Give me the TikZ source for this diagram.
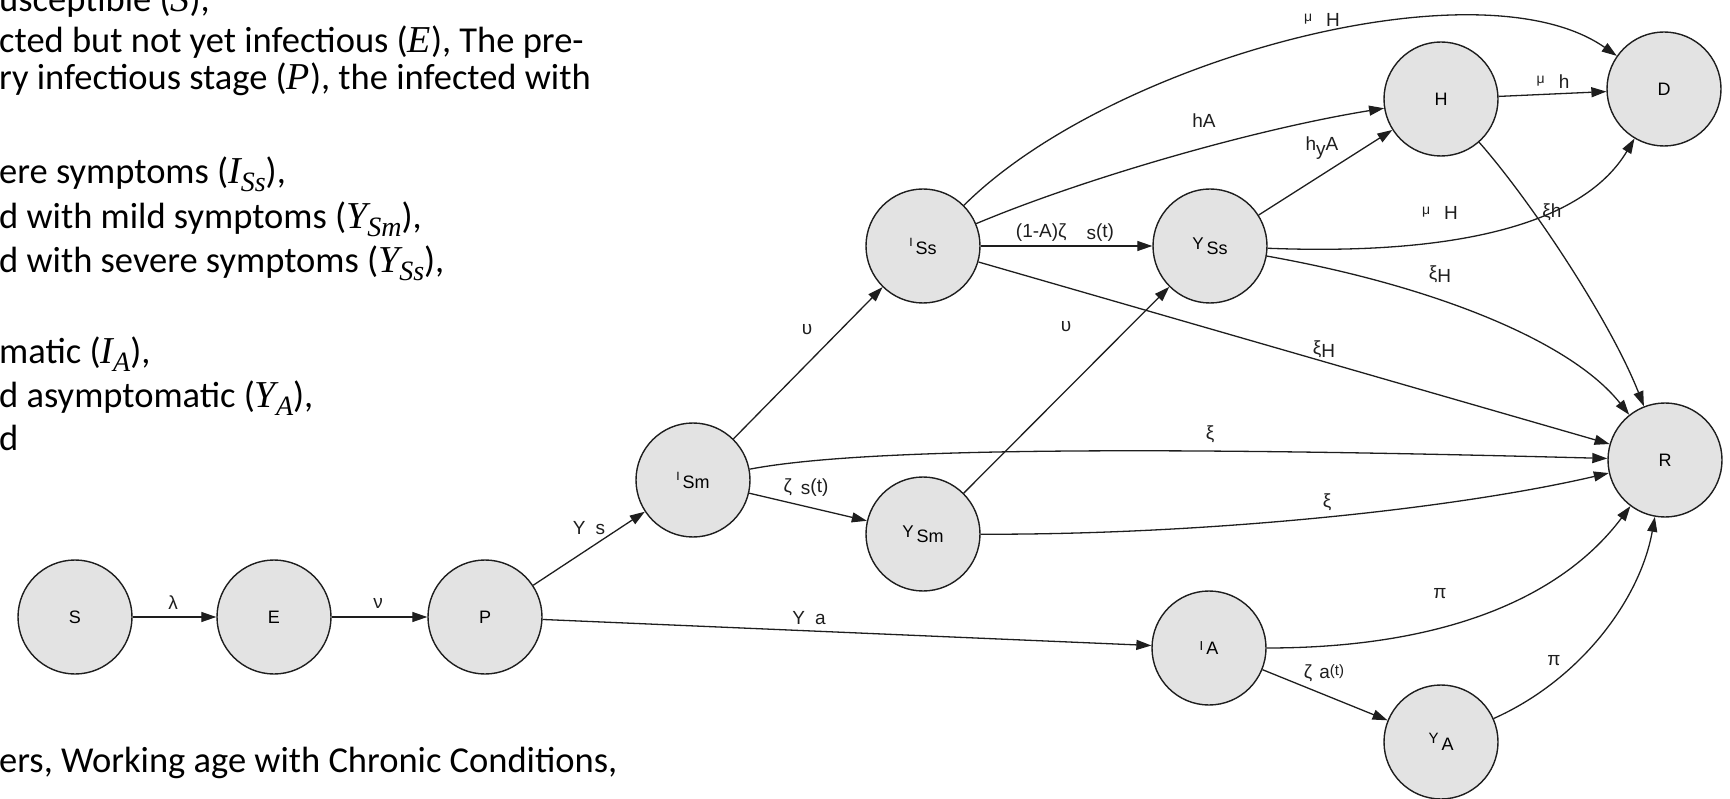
\documentclass[tikz,border=0pt]{standalone}
\usepackage{fontspec}
\setmainfont{Liberation Sans}
\newfontfamily\bodyfont{Carlito}
\newfontfamily\symfont{Liberation Serif}
\usetikzlibrary{arrows.meta}

\definecolor{nodefill}{RGB}{227,227,227}
\definecolor{ink}{RGB}{30,30,30}

% first letter of a compartment name, set small and lifted
\newcommand\lead[3]{\raisebox{#3}{\fontsize{#2}{#2}\selectfont #1}}
% italic compartment symbols in the legend text
\newcommand\sym[1]{{\symfont\itshape\fontsize{38}{40}\selectfont #1}}
\newcommand\symsub[2]{{\symfont\itshape\fontsize{38}{40}\selectfont #1\raisebox{-8pt}{\fontsize{28}{28}\selectfont #2}}}
% small raised letter used in the rate labels
\newcommand\up[1]{\raisebox{5pt}{\fontsize{14}{14}\selectfont #1}}

\begin{document}
\begin{tikzpicture}[
  x=1pt, y=-1pt,
  state/.style={circle, draw=ink, line width=1.4pt, fill=nodefill,
    minimum size=114pt, inner sep=0pt, font=\fontsize{18}{18}\selectfont},
  flow/.style={draw=ink, line width=1.3pt,
    -{Triangle[length=15pt,width=10pt]}},
  rate/.style={font=\fontsize{19}{19}\selectfont, inner sep=0pt, text=ink},
  txt/.style={font=\bodyfont\fontsize{36.5}{40}\selectfont,
    inner sep=0pt, anchor=base west},
]
\useasboundingbox (0,0) rectangle (1730,799);
\clip (0,0) rectangle (1730,799);

% legend text on the left
\node[txt] (l1)  at (-1,12)  {usceptible (\sym{S}),};
\node[txt] (l2)  at (-1,53)  {cted but not yet infectious (\sym{E}), The pre-};
\node[txt] (l3)  at (-1,90)  {ry infectious stage (\sym{P}), the infected with};
\node[txt] (l5)  at (-1,184) {ere symptoms (\symsub{I}{Ss}),};
\node[txt] (l6)  at (-1,229) {d with mild symptoms (\symsub{Y}{Sm}),};
\node[txt] (l7)  at (-1,273) {d with severe symptoms (\symsub{Y}{Ss}),};
\node[txt] (l9)  at (-1,364) {matic (\symsub{I}{A}),};
\node[txt] (l10) at (-1,408) {d asymptomatic (\symsub{Y}{A}),};
\node[txt] (l11) at (-1,450) {d};
\node[txt] (l12) at (-1,772) {ers, Working age with Chronic Conditions,};

% compartments
\node[state] (S)   at (75,617)   {S};
\node[state] (E)   at (274,617)  {E};
\node[state] (P)   at (485,617)  {P};
\node[state] (Ism) at (693,480)  {\lead{I}{12}{8pt}\,Sm};
\node[state] (Iss) at (923,246)  {\lead{I}{12}{8pt}\,Ss};
\node[state] (Ysm) at (923,534)  {\lead{Y}{17}{5pt}\,Sm};
\node[state] (Yss) at (1210,246) {\lead{Y}{17}{5pt}\,Ss};
\node[state] (H)   at (1441,99)  {H};
\node[state] (D)   at (1664,89)  {D};
\node[state] (R)   at (1665,460) {R};
\node[state] (Ia)  at (1209,648) {\lead{I}{13}{4pt}\,A};
\node[state] (Ya)  at (1441,742) {\lead{Y}{15}{7pt}\,A};

% transitions
\draw[flow] (S) -- (E) node[rate] at (173,603) {λ};
\draw[flow] (E) -- (P) node[rate] at (378,603) {ν};
\draw[flow] (P) -- (Ism) node[rate] at (589,528) {Y\hspace{10pt}s};
\draw[flow] (P) -- (Ia) node[rate] at (809,618) {Y\hspace{10pt}a};

\draw[flow] (Ism) -- (Iss) node[rate] at (807,330) {υ};
\draw[flow] (Ism) -- (Ysm) node[rate] at (806,488)
  {ζ\hspace{9pt}\raisebox{-2pt}{s}(t)};
\draw[flow] (Ism) .. controls (850,450) and (1100,445) .. (R)
  node[rate] at (1210,434) {ξ};

\draw[flow] (Ysm) -- (Yss) node[rate] at (1066,327) {υ};
\draw[flow] (Ysm) .. controls (1200,535) and (1450,510) .. (R)
  node[rate] at (1327,502) {ξ};

\draw[flow] (Iss) -- (Yss) node[rate] at (1065,233)
  {(1-A)ζ\hspace{20pt}\raisebox{-2pt}{s}(t)};
\draw[flow] (Iss) .. controls (1080,180) and (1250,130) .. (H)
  node[rate] at (1204,121) {hA};
\draw[flow] (Iss) .. controls (1110,60) and (1480,-40) .. (D)
  node[rate] at (1322,20) {\up{μ}\hspace{14pt}H};
\draw[flow] (Iss) -- (R) node[rate] at (1324,349) {ξ\raisebox{-3pt}{H}};

\draw[flow] (Yss) -- (H) node[rate] at (1322,148) {h\raisebox{-5pt}{y}A};
\draw[flow] (Yss) .. controls (1440,255) and (1580,230) .. (D)
  node[rate] at (1440,213) {\up{μ}\hspace{14pt}H};
\draw[flow] (Yss) .. controls (1430,285) and (1570,340) .. (R)
  node[rate] at (1440,274) {ξ\raisebox{-3pt}{H}};

\draw[flow] (H) -- (D) node[rate] at (1553,82) {\up{μ}\hspace{14pt}h};
\draw[flow] (H) .. controls (1530,200) and (1610,320) .. (R)
  node[rate] at (1552,212) {ξh};

\draw[flow] (Ia) .. controls (1440,648) and (1560,600) .. (R)
  node[rate] at (1440,594) {π};
\draw[flow] (Ia) -- (Ya) node[rate] at (1324,673)
  {ζ\hspace{7pt}a\raisebox{3pt}{\fontsize{15}{15}\selectfont(t)}};
\draw[flow] (Ya) .. controls (1580,680) and (1640,600) .. (R)
  node[rate] at (1554,661) {π};
\end{tikzpicture}
\end{document}
